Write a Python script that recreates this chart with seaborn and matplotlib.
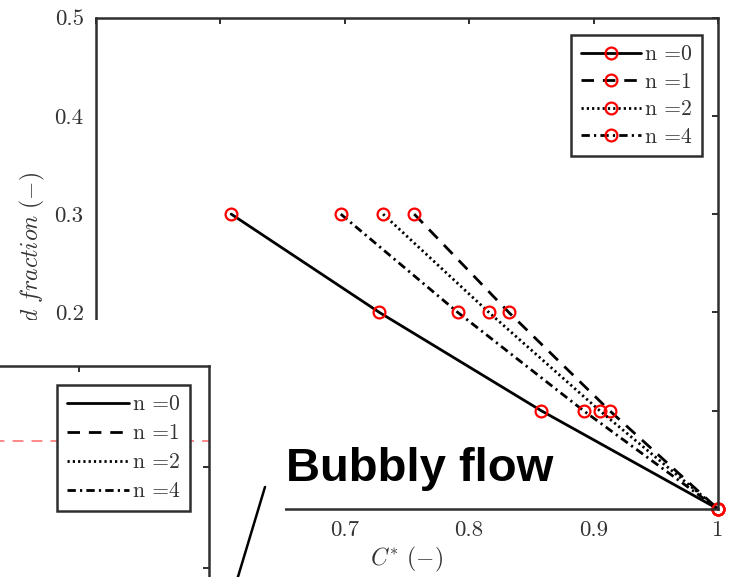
import matplotlib
matplotlib.use("Agg")
import matplotlib.pyplot as plt
from matplotlib.lines import Line2D
from matplotlib.patches import Rectangle
import seaborn as sns
import pandas as pd

# ---- data ----
void_fraction = [0.3, 0.2, 0.1, 0.0]
c_n0 = [0.609, 0.728, 0.858, 1.0]
c_n1 = [0.756, 0.832, 0.913, 1.0]
c_n2 = [0.731, 0.816, 0.905, 1.0]
c_n4 = [0.697, 0.791, 0.892, 1.0]
series_labels = ["n =0", "n =1", "n =2", "n =4"]
x_ticks = [0.5, 0.6, 0.7, 0.8, 0.9, 1.0]
x_ticklabels = ["0.5", "0.6", "0.7", "0.8", "0.9", "1"]
y_ticks = [0.0, 0.1, 0.2, 0.3, 0.4, 0.5]
y_ticklabels = ["0", "0.1", "0.2", "0.3", "0.4", "0.5"]
inset_threshold = 0.4257
annotation_text = "Bubbly flow"

sns.set_theme(style="white")
plt.rcParams["font.family"] = ["serif"]
plt.rcParams["font.serif"] = ["cmr10", "DejaVu Serif"]
plt.rcParams["mathtext.fontset"] = "cm"
plt.rcParams["axes.unicode_minus"] = False

W, H = 731, 577
fig = plt.figure(figsize=(W / 100, H / 100), dpi=100)

def fx(px):
    return px / W

def fy(py):
    return 1 - py / H

TXT = "#333333"
SPINE = "#2e2e2e"

# main axes
L, R, T, B = 95.5, 718, 17.5, 509
ax = fig.add_axes([fx(L), fy(B), fx(R) - fx(L), fy(T) - fy(B)])
ax.set_facecolor("white")

styles = {
    "n =0": "-",
    "n =1": (0, (4.5, 3.2)),
    "n =2": (0, (0.8, 1.1)),
    "n =4": (0, (3.0, 1.5, 0.8, 1.5)),
}
series = {"n =0": c_n0, "n =1": c_n1, "n =2": c_n2, "n =4": c_n4}
LW = 2.0
handles_main = []
handles_inset = []
for lab in series_labels:
    df = pd.DataFrame({"C": series[lab], "alpha": void_fraction})
    n_before = len(ax.lines)
    sns.lineplot(data=df, x="C", y="alpha", sort=False, estimator=None, ax=ax,
                 color="black", linewidth=LW, linestyle=styles[lab],
                 marker="o", markersize=8.5, markerfacecolor="none",
                 markeredgecolor="red", markeredgewidth=1.6, clip_on=False,
                 legend=False)
    line = ax.lines[n_before]
    line.set_linestyle(styles[lab])
    line.set_markerfacecolor("none")
    line.set_markeredgecolor("red")
    handles_main.append(Line2D([], [], color="black", lw=LW, ls=styles[lab],
                               marker="o", markersize=8.5, mfc="none",
                               mec="red", mew=1.6))
    handles_inset.append(Line2D([], [], color="black", lw=LW, ls=styles[lab]))

ax.set_xlim(0.5, 1.0)
ax.set_ylim(0.0, 0.5)
ax.set_xticks(x_ticks)
ax.set_xticklabels(x_ticklabels)
ax.set_yticks(y_ticks)
ax.set_yticklabels(y_ticklabels)
ax.tick_params(direction="in", length=4, width=1.4, top=True, right=True,
               labelsize=16.5, labelcolor=TXT, color=SPINE, pad=8.5)
for s in ax.spines.values():
    s.set_color(SPINE)
    s.set_linewidth(1.8)
    s.set_visible(True)
ax.set_xlabel(r"$C^{*}\ (-)$", fontsize=17, color=TXT)
ax.set_ylabel(r"$Void\ fraction\ (-)$", fontsize=17, color=TXT)
ax.xaxis.set_label_coords(0.5, -0.073)
ax.yaxis.set_label_coords(-0.078, 0.5)

leg = ax.legend(handles=handles_main, labels=series_labels, loc="upper right",
                bbox_to_anchor=((702 - L) / (R - L), 1 - (35 - T) / (B - T)),
                borderaxespad=0, fontsize=15.5, handlelength=2.8,
                handletextpad=0.2, labelspacing=0.37, borderpad=0.45,
                frameon=True, fancybox=False, framealpha=1)
leg.get_frame().set_edgecolor(SPINE)
leg.get_frame().set_linewidth(1.8)
for t in leg.get_texts():
    t.set_color(TXT)

# white cover over the lower-left region
fig.patches.append(Rectangle((0, 0), fx(285), fy(320), transform=fig.transFigure,
                             facecolor="white", edgecolor="none", zorder=1))

# inset axes (corner of a neighbouring panel)
iL, iR, iT, iB = -146.2, 209, 366, 692.4
axi = fig.add_axes([fx(iL), fy(iB), fx(iR) - fx(iL), fy(iT) - fy(iB)], zorder=2)
axi.set_facecolor("white")
axi.set_xlim(1.0 - (iR - iL) / 1300, 1.0)
axi.set_ylim(0.5 - (iB - iT) / 1010, 0.5)
axi.axhline(inset_threshold, color="#FF7F7F", lw=1.3, ls=(3, (6, 4.5)))
axi.set_xticks([0.9])
axi.set_yticks([0.3, 0.4])
axi.tick_params(direction="in", length=4, width=1.4, top=True, right=True,
                labelleft=False, labelbottom=False, color=SPINE)
for s in axi.spines.values():
    s.set_color(SPINE)
    s.set_linewidth(1.8)
    s.set_visible(True)
legi = axi.legend(handles=handles_inset, labels=series_labels, loc="upper right",
                  bbox_to_anchor=((190 - iL) / (iR - iL), 1 - (385 - iT) / (iB - iT)),
                  borderaxespad=0, fontsize=15.5, handlelength=2.9,
                  handletextpad=0.2, labelspacing=0.44, borderpad=0.45,
                  frameon=True, fancybox=False, framealpha=1)
legi.get_frame().set_edgecolor(SPINE)
legi.get_frame().set_linewidth(1.8)
for t in legi.get_texts():
    t.set_color(TXT)

# annotation
fig.text(fx(286), fy(481), annotation_text, fontsize=34, fontweight="bold",
         family="Liberation Sans", color="black", va="baseline", ha="left",
         zorder=5)
fig.add_artist(Line2D([fx(265), fx(231)], [fy(487), fy(600)], color="black",
                      lw=1.8, transform=fig.transFigure, zorder=5))

fig.savefig("out.png", dpi=100)
